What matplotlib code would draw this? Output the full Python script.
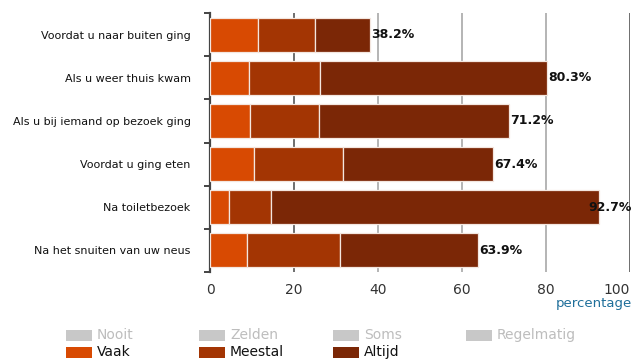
import matplotlib
matplotlib.use("Agg")
import matplotlib.pyplot as plt
from matplotlib.patches import Rectangle
import numpy as np

# Hand hygiene moments
categories = [
    "Voordat u naar buiten ging",
    "Als u weer thuis kwam",
    "Als u bij iemand op bezoek ging",
    "Voordat u ging eten",
    "Na toiletbezoek",
    "Na het snuiten van uw neus",
]

# Percentages per answer level (stacked)
vaak = [11.5, 9.2, 9.5, 10.5, 4.6, 8.9]
meestal = [13.6, 17.1, 16.5, 21.2, 9.9, 22.0]
altijd = [13.1, 54.0, 45.2, 35.7, 78.2, 33.0]
totals = [38.2, 80.3, 71.2, 67.4, 92.7, 63.9]

x_ticks = [0, 20, 40, 60, 80, 100]

legend_labels = ["Nooit", "Zelden", "Soms", "Regelmatig", "Vaak", "Meestal", "Altijd"]
legend_active = [False, False, False, False, True, True, True]

c_vaak = "#d84a02"
c_meestal = "#a33503"
c_altijd = "#7b2706"
c_off = "#c8c8c8"
legend_colors = [c_off, c_off, c_off, c_off, c_vaak, c_meestal, c_altijd]

W, H = 635, 361
fig = plt.figure(figsize=(W / 100, H / 100), dpi=100)
fig.patch.set_facecolor("white")

def fx(px):
    return px / W

def fy(py):
    return 1 - py / H

ax = fig.add_axes([fx(210), fy(272), fx(630) - fx(210), fy(13) - fy(272)])

y = np.arange(len(categories))
h = 0.79
edge = dict(edgecolor="#f3e6df", linewidth=0.9)

left = np.zeros(len(categories))
for vals, col in [(vaak, c_vaak), (meestal, c_meestal), (altijd, c_altijd)]:
    ax.barh(y, vals, left=left, height=h, color=col, zorder=3, **edge)
    left = left + np.array(vals)

for yi, t in zip(y, totals):
    if t > 88:
        ax.text(100.5, yi, f"{t:.1f}%", ha="right", va="center", fontsize=9,
                fontweight="bold", color="#111111", zorder=5, clip_on=False)
    else:
        ax.text(t + 0.2, yi, f"{t:.1f}%", ha="left", va="center", fontsize=9,
                fontweight="bold", color="#111111", zorder=5)

ax.set_xlim(0, 100)
ax.set_ylim(len(categories) - 0.5, -0.5)

# Gridlines
for xv in x_ticks[1:]:
    col = "#555555" if xv in (20, 100) else "#a8a8a8"
    ax.axvline(xv, color=col, linewidth=1.2, zorder=1)

ax.set_xticks(x_ticks)
ax.set_xticklabels([str(v) for v in x_ticks], fontsize=10, color="#333333")
ax.tick_params(axis="x", length=0, pad=8)
xt = ax.get_xticklabels()
xt[-1].set_horizontalalignment("right")
xt[-1].set_x(100)

ax.set_yticks(y)
ax.set_yticklabels(categories, fontsize=8, color="#111111")
ax.tick_params(axis="y", which="major", length=0, pad=14)
ax.set_yticks(np.arange(len(categories) + 1) - 0.5, minor=True)
ax.tick_params(axis="y", which="minor", length=4, width=1.4, color="#444444", direction="out")

for s in ["top", "right", "bottom"]:
    ax.spines[s].set_visible(False)
ax.spines["left"].set_color("#444444")
ax.spines["left"].set_linewidth(1.6)
ax.set_facecolor("white")

fig.text(fx(632), fy(304), "percentage", ha="right", va="center",
         fontsize=9.5, color="#1f6f9a")

# Legend drawn as two rows of swatches
col_x = [66, 199, 333, 466]
row_y = [335, 352]
for i, (lab, active, col) in enumerate(zip(legend_labels, legend_active, legend_colors)):
    r = 0 if i < 4 else 1
    c = i if i < 4 else i - 4
    px, py = col_x[c], row_y[r]
    fig.add_artist(Rectangle((fx(px), fy(py + 5.5)), fx(26), 11 / H,
                             transform=fig.transFigure, facecolor=col,
                             edgecolor="none"))
    fig.text(fx(px + 31), fy(py), lab, ha="left", va="center", fontsize=10,
             color="#111111" if active else "#bdbdbd")

fig.savefig("out.png", dpi=100, facecolor="white")
